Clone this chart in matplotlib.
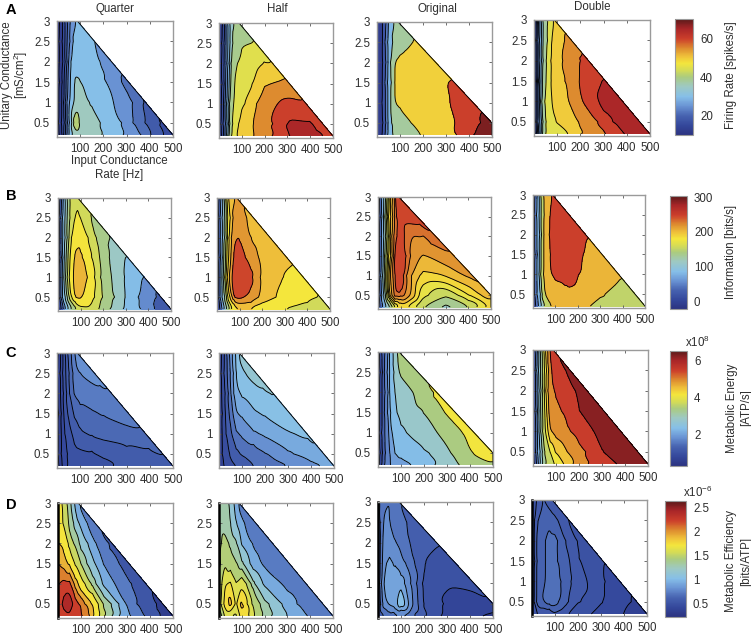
import numpy as np
import matplotlib
matplotlib.use("Agg")
import matplotlib.pyplot as plt
import matplotlib.tri as mtri
from matplotlib.cm import ScalarMappable
from matplotlib.colors import LinearSegmentedColormap, Normalize

plt.rcParams["font.family"] = ["Liberation Sans", "DejaVu Sans"]
plt.rcParams["mathtext.fontset"] = "custom"
plt.rcParams["mathtext.rm"] = "Liberation Sans"

W, H = 751, 635

# sampling rows: unitary conductance, and the input rates read along each row
# (the last value of a row always sits on the diagonal edge of the domain)
Y_ROWS = [0.2, 0.5, 1, 1.5, 2, 2.5, 3]
X_ROWS = [
    [0, 25, 50, 75, 100, 150, 200, 300, 400],
    [0, 25, 50, 75, 100, 150, 200, 300, 400],
    [0, 25, 50, 75, 100, 150, 200, 300],
    [0, 25, 50, 75, 100, 150, 200],
    [0, 25, 50, 75, 100, 150, 200],
    [0, 25, 50, 75, 100],
    [0, 25, 50],
]

# =========================
# FIRING RATE
# =========================
A_LEVELS_QUARTER = [8, 11, 14, 17, 20, 23, 27, 33, 38, 44]
A_QUARTER = [
    [9, 15, 25, 35, 36, 35, 33.5, 26.5, 20.5, 15],
    [9, 15, 26, 42, 38, 36, 32, 25, 19, 16],
    [9, 15, 25, 34, 35, 32, 29, 24.5, 19],
    [9, 15, 24, 34, 33.5, 30.5, 28, 21],
    [9, 14, 23, 31, 31, 28.5, 26, 24],
    [9, 14, 22, 29, 29.5, 27],
    [9, 14, 21, 28],
]
A_LEVELS_HALF = [10, 14, 18, 22, 27, 32, 36, 42, 48, 52, 58, 62, 68]
A_HALF = [
    [10, 20, 40, 48, 50, 51.5, 55, 62, 64, 61],
    [10, 20, 40, 47, 49, 52, 56.5, 63, 62.5, 60],
    [10, 20, 38, 45, 47.5, 50.5, 55, 60.5, 58.5],
    [10, 19, 36, 44, 45, 48, 51, 53],
    [10, 19, 35, 41.5, 43, 47.5, 48.5, 48.5],
    [9, 18, 34, 40, 41, 42],
    [9, 18, 33, 39],
]
A_LEVELS_ORIGINAL = [10, 15, 20, 25, 33, 43, 56, 64, 72]
A_ORIGINAL = [
    [10, 15, 26, 36, 38, 40, 43.5, 52, 62, 70],
    [10, 15, 26, 36, 39, 43, 46, 53, 60, 69],
    [10, 15, 26, 43.5, 45, 47, 49, 55, 61],
    [10, 15, 26, 43.5, 45, 47, 50, 58],
    [10, 15, 26, 43.5, 45, 47, 48, 50],
    [10, 15, 26, 37, 39.5, 44],
    [9, 15, 25, 38],
]
A_LEVELS_DOUBLE = [10, 13, 16, 19, 22, 26, 30, 34, 42, 48, 52, 58, 62, 68]
A_DOUBLE = [
    [10, 25, 42, 46, 47, 47.7, 50.5, 57.5, 62.5, 65],
    [10, 26, 43, 47, 48, 50.5, 52.5, 60.5, 63.5, 65],
    [10, 27, 44, 48, 49.5, 51.8, 57.5, 63.5, 65],
    [10, 27, 42, 49, 50, 52.5, 58.8, 62.5],
    [10, 27, 41, 48.5, 51, 54, 58.8, 60],
    [10, 26, 40, 48.5, 50, 54],
    [10, 26, 39, 49],
]

# =========================
# INFORMATION
# =========================
B_LEVELS_QUARTER = [-20, 0, 20, 50, 80, 110, 135, 158, 178, 202, 225]
B_QUARTER = [
    [-10, 50, 110, 150, 168, 170, 152, 107, 60, 25],
    [-10, 100, 170, 205, 208, 183, 155, 108, 62, 38],
    [-10, 110, 180, 212, 218, 190, 153, 105, 76],
    [-10, 105, 175, 207, 210, 180, 147, 105],
    [-10, 100, 165, 193, 197, 165, 142, 132],
    [-10, 95, 160, 180, 178, 150],
    [-10, 90, 155, 177],
]
B_LEVELS_HALF = [-20, 0, 25, 60, 100, 130, 158, 178, 200, 218, 235, 275]
B_HALF = [
    [-10, 70, 140, 185, 197, 195, 190, 176, 170, 165],
    [-10, 110, 195, 238, 242, 232, 212, 192, 182, 176],
    [-10, 120, 215, 248, 255, 242, 216, 198, 195],
    [-10, 115, 200, 240, 245, 228, 212, 203],
    [-10, 110, 195, 232, 236, 216, 208, 206],
    [-10, 105, 190, 226, 226, 210],
    [-10, 100, 200, 222],
]
B_LEVELS_ORIGINAL = [-20, 0, 25, 60, 100, 128, 150, 170, 185, 200, 215, 230, 240, 260, 275]
B_ORIGINAL = [
    [-10, 60, 120, 160, 190, 170, 150, 118, 145, 190],
    [-10, 110, 200, 238, 243, 212, 172, 152, 183, 218],
    [-10, 120, 210, 243, 252, 215, 197, 202, 222],
    [-10, 110, 190, 245, 250, 225, 212, 232],
    [-10, 105, 190, 237, 247, 228, 229.5, 240],
    [-10, 105, 195, 235, 245, 248],
    [-10, 100, 190, 265],
]
B_LEVELS_DOUBLE = [-20, 20, 60, 100, 130, 172, 235, 260, 300]
B_DOUBLE = [
    [-10, 60, 120, 165, 178, 180, 180, 165, 155, 140],
    [-10, 80, 170, 205, 220, 232, 228, 175, 160, 150],
    [-10, 90, 180, 233, 243, 245, 242, 205, 178],
    [-10, 90, 180, 238, 248, 248, 243, 215],
    [-10, 90, 180, 240, 248, 248, 242, 237],
    [-10, 90, 178, 240, 248, 246],
    [-10, 90, 175, 243],
]

# =========================
# METABOLIC ENERGY
# =========================
C_LEVELS_QUARTER = [0.3, 0.5, 0.7, 0.9, 1.1, 1.3, 1.5, 1.7, 1.9]
C_QUARTER = [
    [0.4, 0.75, 0.92, 0.98, 1.0, 1.03, 1.05, 1.13, 1.2, 1.25],
    [0.4, 0.78, 0.95, 1.02, 1.04, 1.07, 1.12, 1.19, 1.26, 1.31],
    [0.4, 0.8, 1.02, 1.16, 1.28, 1.34, 1.38, 1.43, 1.47],
    [0.4, 0.85, 1.15, 1.33, 1.42, 1.47, 1.52, 1.62],
    [0.4, 0.9, 1.25, 1.52, 1.57, 1.62, 1.66, 1.68],
    [0.4, 0.9, 1.3, 1.6, 1.71, 1.8],
    [0.4, 0.9, 1.35, 1.85],
]
C_LEVELS_HALF = [0.45, 0.75, 1.05, 1.35, 1.65, 1.95, 2.25, 2.55, 2.85]
C_HALF = [
    [0.5, 0.8, 0.95, 1.03, 1.1, 1.33, 1.45, 1.63, 1.85, 2.0],
    [0.5, 0.9, 1.1, 1.25, 1.37, 1.5, 1.62, 1.88, 2.08, 2.2],
    [0.5, 0.95, 1.3, 1.6, 1.72, 1.9, 2.0, 2.22, 2.35],
    [0.5, 1.0, 1.45, 1.95, 2.02, 2.2, 2.3, 2.52],
    [0.5, 1.05, 1.6, 2.15, 2.28, 2.42, 2.52, 2.58],
    [0.5, 1.1, 1.7, 2.3, 2.52, 2.72],
    [0.5, 1.1, 1.75, 2.6],
]
C_LEVELS_ORIGINAL = [0.4, 0.8, 1.2, 1.6, 2.0, 2.25, 2.7, 3.2, 3.9, 4.7]
C_ORIGINAL = [
    [0.5, 1.5, 2.0, 2.1, 2.15, 2.23, 2.4, 2.9, 3.5, 3.85],
    [0.5, 1.5, 2.0, 2.25, 2.35, 2.52, 2.62, 3.05, 3.9, 4.3],
    [0.5, 1.5, 2.1, 2.4, 2.6, 2.78, 2.95, 3.4, 4.2],
    [0.5, 1.5, 2.2, 2.65, 2.8, 3.0, 3.15, 4.3],
    [0.5, 1.5, 2.25, 2.72, 2.9, 3.15, 3.6, 4.1],
    [0.5, 1.5, 2.25, 2.9, 3.3, 3.75],
    [0.5, 1.5, 2.25, 3.45],
]
C_LEVELS_DOUBLE = [0.4, 0.9, 1.4, 1.9, 2.4, 2.9, 3.4, 3.9, 4.3, 4.7, 5.2, 5.85, 6.6]
C_DOUBLE = [
    [0.6, 2.0, 3.2, 3.75, 3.95, 4.45, 4.85, 5.45, 6.05, 6.3],
    [0.6, 2.2, 3.5, 3.9, 4.3, 4.7, 5.0, 5.85, 6.2, 6.3],
    [0.6, 2.3, 3.8, 4.7, 4.9, 5.1, 5.35, 6.1, 6.3],
    [0.6, 2.4, 3.9, 5.0, 5.05, 5.3, 5.85, 6.3],
    [0.6, 2.4, 4.0, 5.05, 5.23, 5.6, 6.0, 6.2],
    [0.6, 2.4, 4.0, 5.1, 5.45, 6.05],
    [0.6, 2.4, 4.0, 5.85],
]

# =========================
# METABOLIC EFFICIENCY
# =========================
D_LEVELS_QUARTER = [0.3, 0.5, 0.7, 0.9, 1.1, 1.3, 1.5, 1.7, 1.9, 2.05, 2.2, 2.4, 2.55, 2.7]
D_QUARTER = [
    [2.2, 2.3, 2.35, 2.3, 2.22, 1.97, 1.6, 0.93, 0.62, 0.38],
    [2.3, 2.46, 2.58, 2.3, 2.21, 1.93, 1.47, 0.85, 0.55, 0.42],
    [2.2, 2.26, 2.24, 2.02, 1.78, 1.42, 1.06, 0.73, 0.53],
    [2.05, 2.0, 1.85, 1.68, 1.5, 1.16, 0.87, 0.6],
    [1.9, 1.87, 1.63, 1.48, 1.25, 0.95, 0.73, 0.65],
    [1.8, 1.68, 1.45, 1.2, 1.03, 0.72],
    [1.7, 1.68, 1.38, 0.88],
]
D_LEVELS_HALF = [0.5, 0.7, 0.9, 1.1, 1.3, 1.45, 1.6, 1.75, 1.9, 2.05]
D_HALF = [
    [1.3, 1.6, 1.6, 1.55, 1.85, 1.63, 1.45, 1.1, 0.87, 0.72],
    [1.5, 1.8, 2.0, 1.72, 2.0, 1.58, 1.36, 1.0, 0.8, 0.75],
    [1.5, 1.72, 1.78, 1.62, 1.72, 1.36, 1.07, 0.85, 0.75],
    [1.4, 1.6, 1.5, 1.46, 1.36, 1.02, 0.83, 0.72],
    [1.4, 1.5, 1.42, 1.35, 1.08, 0.85, 0.76, 0.72],
    [1.4, 1.4, 1.3, 1.1, 0.93, 0.75],
    [1.3, 1.4, 1.27, 0.85],
]
D_LEVELS_ORIGINAL = [0.25, 0.35, 0.45, 0.55, 0.65, 0.75, 0.85, 0.95, 1.1]
D_ORIGINAL = [
    [0.55, 0.62, 0.72, 0.68, 0.72, 0.63, 0.57, 0.42, 0.36, 0.31],
    [0.55, 0.82, 0.88, 0.92, 1.08, 0.76, 0.53, 0.42, 0.40, 0.45],
    [0.55, 0.86, 0.92, 0.93, 0.93, 0.74, 0.53, 0.46, 0.48],
    [0.55, 0.82, 0.88, 0.83, 0.78, 0.66, 0.55, 0.48],
    [0.55, 0.8, 0.78, 0.75, 0.72, 0.63, 0.59, 0.56],
    [0.6, 0.77, 0.75, 0.72, 0.68, 0.59],
    [0.6, 0.72, 0.75, 0.65],
]
D_LEVELS_DOUBLE = [0.25, 0.32, 0.4, 0.46, 0.52, 0.58, 0.64, 0.7]
D_DOUBLE = [
    [0.4, 0.46, 0.45, 0.47, 0.5, 0.46, 0.44, 0.37, 0.31, 0.28],
    [0.4, 0.55, 0.59, 0.62, 0.62, 0.53, 0.46, 0.41, 0.34, 0.3],
    [0.4, 0.55, 0.57, 0.6, 0.6, 0.55, 0.5, 0.405, 0.36],
    [0.4, 0.55, 0.57, 0.6, 0.6, 0.54, 0.47, 0.4],
    [0.4, 0.55, 0.57, 0.6, 0.6, 0.51, 0.45, 0.42],
    [0.4, 0.52, 0.55, 0.57, 0.54, 0.45],
    [0.4, 0.48, 0.52, 0.46],
]

TABLES = [
    [A_QUARTER, A_HALF, A_ORIGINAL, A_DOUBLE],
    [B_QUARTER, B_HALF, B_ORIGINAL, B_DOUBLE],
    [C_QUARTER, C_HALF, C_ORIGINAL, C_DOUBLE],
    [D_QUARTER, D_HALF, D_ORIGINAL, D_DOUBLE],
]
LEVELS = [
    [A_LEVELS_QUARTER, A_LEVELS_HALF, A_LEVELS_ORIGINAL, A_LEVELS_DOUBLE],
    [B_LEVELS_QUARTER, B_LEVELS_HALF, B_LEVELS_ORIGINAL, B_LEVELS_DOUBLE],
    [C_LEVELS_QUARTER, C_LEVELS_HALF, C_LEVELS_ORIGINAL, C_LEVELS_DOUBLE],
    [D_LEVELS_QUARTER, D_LEVELS_HALF, D_LEVELS_ORIGINAL, D_LEVELS_DOUBLE],
]
# small nudge of the band colours along the colour scale, per panel
FILL_SHIFT = [
    [0, 0, 0, 0],
    [0.03, 0.03, 0.015, 0],
    [0, 0, 0.025, 0],
    [0.03, 0.03, 0, -0.03],
]

COL_TITLES = ["Quarter", "Half", "Original", "Double"]
ROW_LETTERS = ["A", "B", "C", "D"]
CBAR_RANGES = [(10, 70.3), (-21, 303), (0.28, 6.54), (0.225, 2.63)]
CBAR_TICKS = [
    [20, 40, 60],
    [0, 100, 200, 300],
    [2, 4, 6],
    [0.5, 1, 1.5, 2, 2.5],
]
CBAR_LABELS = ["20 40 60".split(), "0 100 200 300".split(), "2 4 6".split(), "0.5 1 1.5 2 2.5".split()]
X_TICKS = [100, 200, 300, 400, 500]
Y_TICKS = [0.5, 1, 1.5, 2, 2.5, 3]
Y_TICK_LABELS = ["0.5", "1", "1.5", "2", "2.5", "3"]

# pixel boxes (left, right, top, bottom) of the panels in the figure
BOXES = [
    [(57, 173, 21, 137), (219, 333, 23, 138), (377, 492, 22, 137), (534, 650, 20, 136)],
    [(58, 171, 198, 311), (217, 330, 198, 311), (378, 491, 197, 309), (533, 645, 195, 308)],
    [(57, 173, 353, 468), (219, 334, 353, 468), (378, 493, 352, 467), (533, 648, 350, 466)],
    [(58, 173, 503, 618), (219, 333, 503, 618), (378, 493, 502, 618), (532, 647, 500, 616)],
]
CBAR_BOXES = [(675, 693, 19, 135), (670, 687, 196, 309), (670, 687, 351, 466), (665, 686, 501, 617)]

COLORMAP = LinearSegmentedColormap.from_list("muted_jet", [
    (0.00, "#2c3380"), (0.08, "#34479b"), (0.167, "#4763b0"), (0.25, "#6a94d4"),
    (0.33, "#86bfe8"), (0.42, "#9ec9c2"), (0.50, "#abcb7f"), (0.56, "#d6dc55"),
    (0.62, "#f4e63c"), (0.68, "#efc03a"), (0.75, "#dd8a2f"), (0.83, "#cc3f2b"),
    (0.92, "#a82528"), (1.00, "#5a1a1a"),
])

FRAME = "#9a9a9a"
TEXT = "#2e2e2e"
FONT = 8.3


def edge_x(y, col):
    # the simulated domain ends on a diagonal; Original runs a little further out
    if col == 2:
        return min(500, 92 + (3 - y) * 163)
    return 88 + (3 - y) * 147


def add_axes_px(box):
    left, right, top, bottom = box
    return fig.add_axes([left / W, 1 - bottom / H, (right - left) / W, (bottom - top) / H])


def smooth_field(fine, z, passes=10):
    # neighbour averaging on the refined mesh, cubic refinement overshoots here
    e = fine.edges
    z = z.copy()
    for _ in range(passes):
        total = np.zeros_like(z)
        count = np.zeros_like(z)
        np.add.at(total, e[:, 0], z[e[:, 1]])
        np.add.at(total, e[:, 1], z[e[:, 0]])
        np.add.at(count, e[:, 0], 1)
        np.add.at(count, e[:, 1], 1)
        z = 0.5 * z + 0.5 * total / count
    return z


def draw_panel(ax, table, levels, norm, col):
    xs, ys, zs = [], [], []
    for y, row_x, row_z in zip(Y_ROWS, X_ROWS, table):
        row_x = row_x + [edge_x(y, col)]
        xs += row_x
        ys += [y] * len(row_x)
        zs += row_z
    zs = np.array(zs, dtype=float)
    # scale x so the triangles follow the panel shape rather than raw Hz
    triang = mtri.Triangulation(np.array(xs) / 170, ys)
    linear = mtri.LinearTriInterpolator(triang, zs)
    fine, z_fine = mtri.UniformTriRefiner(triang).refine_field(zs, triinterpolator=linear, subdiv=3)
    z_fine = smooth_field(fine, z_fine)
    fine = mtri.Triangulation(fine.x * 170, fine.y, fine.triangles)
    ax.tricontourf(fine, z_fine, levels=levels, cmap=COLORMAP, norm=norm, extend="both")
    ax.tricontour(fine, z_fine, levels=levels, colors="k", linewidths=0.65)
    edge = [edge_x(y, col) for y in Y_ROWS]
    ax.plot(edge, Y_ROWS, color="k", lw=0.7)
    ax.set_xlim(0, 500)
    ax.set_ylim(0.15, 3)
    ax.set_xticks(X_TICKS)
    ax.set_yticks(Y_TICKS)
    ax.set_yticklabels(Y_TICK_LABELS)
    ax.tick_params(direction="in", length=2, width=0.6, color="#555555", top=True, right=True,
                   labelsize=FONT, labelcolor=TEXT)
    ax.tick_params(axis="x", pad=4.5)
    ax.tick_params(axis="y", pad=5)
    for sp in ax.spines.values():
        sp.set_color(FRAME)
        sp.set_linewidth(1.0)


fig = plt.figure(figsize=(W / 100, H / 100), dpi=100)

for r in range(4):
    low, high = CBAR_RANGES[r]
    norm = Normalize(low, high)
    span = high - low
    for c in range(4):
        ax = add_axes_px(BOXES[r][c])
        shift = FILL_SHIFT[r][c] * span
        draw_panel(ax, TABLES[r][c], LEVELS[r][c], Normalize(low + shift, high + shift), c)
        if r == 3:
            ax.spines["left"].set_color("k")
            ax.spines["left"].set_linewidth(1.8)
    cax = add_axes_px(CBAR_BOXES[r])
    cb = fig.colorbar(ScalarMappable(norm=norm, cmap=COLORMAP), cax=cax)
    cb.set_ticks(CBAR_TICKS[r])
    cb.set_ticklabels(CBAR_LABELS[r])
    cb.ax.tick_params(length=0, labelsize=FONT, labelcolor=TEXT, pad=5)
    cb.outline.set_edgecolor(FRAME)
    cb.outline.set_linewidth(0.8)


def label_px(x, y, s, **kw):
    kw.setdefault("color", TEXT)
    kw.setdefault("fontsize", FONT)
    fig.text(x / W, 1 - y / H, s, ha="center", va="center", **kw)


for title, x, y in zip(COL_TITLES, [115, 277, 437, 592], [9, 9, 9, 7]):
    label_px(x, y, title)
for letter, y in zip(ROW_LETTERS, [10, 196, 353, 505]):
    label_px(11, y, letter, fontsize=10.5, fontweight="bold", color="k")

label_px(7, 75, "Unitary Conductance", rotation=90)
label_px(21, 75, "[mS/cm$^2$]", rotation=90)
label_px(119, 168, "Input Conductance\nRate [Hz]", linespacing=1.2)
label_px(731, 75, "Firing Rate [spikes/s]", rotation=90)
label_px(731, 252, "Information [bits/s]", rotation=90)
label_px(732, 408, "Metabolic Energy", rotation=90)
label_px(746, 408, "[ATP/s]", rotation=90)
label_px(731, 561, "Metabolic Efficiency", rotation=90)
label_px(746, 561, "[bits/ATP]", rotation=90)
label_px(697, 342, "x10$^{8}$")
label_px(698, 492, "x10$^{-6}$")

fig.savefig("out.png", dpi=100)
